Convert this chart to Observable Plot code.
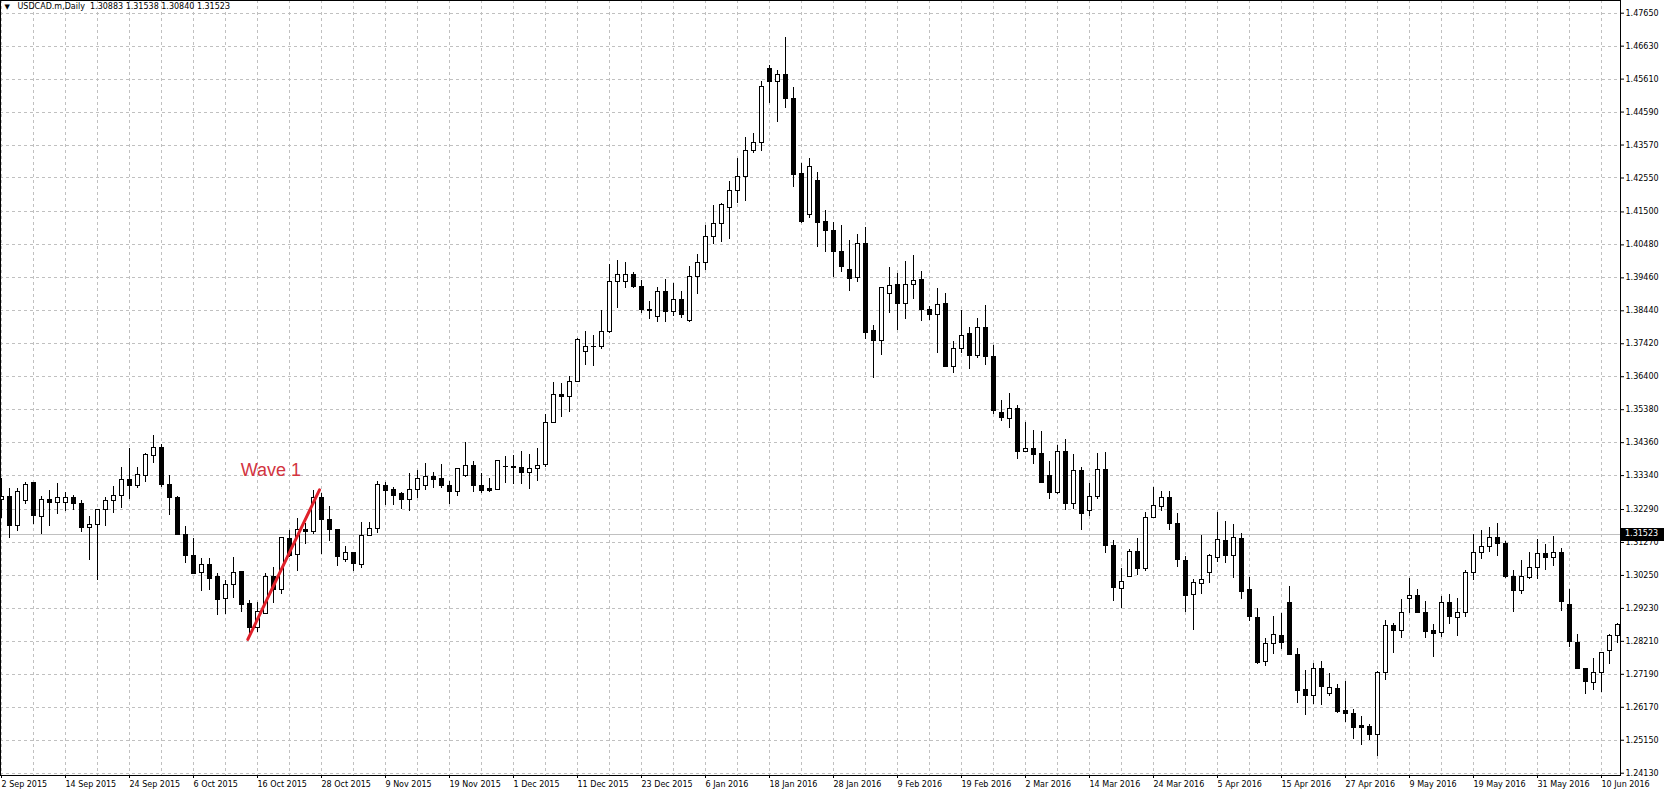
<!DOCTYPE html>
<html><head><meta charset="utf-8">
<script src="https://cdn.jsdelivr.net/npm/d3@7"></script>
<script src="https://cdn.jsdelivr.net/npm/@observablehq/plot@0.6"></script>
<style>html,body{margin:0;padding:0;background:#fff;overflow:hidden}</style>
</head><body><div id="chart"></div>
<script>
const symbolName = "USDCAD.m,Daily";
const headerOHLC = [1.30883, 1.31538, 1.30840, 1.31523];
const currentPrice = headerOHLC[3];

const open = [
1.3259,1.3269,1.3177,1.3256,1.3310,1.3205,1.3259,1.3249,1.3249,1.3265,
1.3247,1.3173,1.3182,1.3228,1.3254,1.3270,1.3321,1.3301,1.3332,1.3396,
1.3420,1.3306,1.3266,1.3149,1.3084,1.3033,1.3058,1.3019,1.2952,1.2996,
1.3037,1.2937,1.2863,1.2906,1.3019,1.2980,1.3138,1.3088,1.3166,1.3159,
1.3265,1.3197,1.3166,1.3073,1.3095,1.3057,1.3146,1.3169,1.3303,1.3288,
1.3276,1.3259,1.3290,1.3301,1.3331,1.3322,1.3303,1.3283,1.3332,1.3363,
1.3303,1.3291,1.3290,1.3360,1.3362,1.3358,1.3343,1.3355,1.3367,1.3497,
1.3584,1.3578,1.3623,1.3717,1.3731,1.3731,1.3778,1.3933,1.3933,1.3955,
1.3919,1.3847,1.3824,1.3902,1.3840,1.3878,1.3811,1.3948,1.3992,1.4072,
1.4113,1.4161,1.4214,1.4257,1.4337,1.4364,1.4593,1.4552,1.4575,1.4500,
1.4266,1.4141,1.4247,1.4118,1.4092,1.4027,1.3969,1.3946,1.4051,1.3780,
1.3750,1.3897,1.3925,1.3866,1.3924,1.3938,1.3845,1.3832,1.3864,1.3670,
1.3727,1.3773,1.3704,1.3792,1.3702,1.3528,1.3509,1.3540,1.3406,1.3417,
1.3401,1.3334,1.3280,1.3408,1.3247,1.3347,1.3224,1.3267,1.3350,1.3117,
1.2983,1.3021,1.3098,1.3044,1.3204,1.3238,1.3266,1.3184,1.3071,1.2965,
1.2999,1.3033,1.3079,1.3131,1.3084,1.3138,1.2981,1.2894,1.2756,1.2813,
1.2839,1.2940,1.2780,1.2671,1.2651,1.2736,1.2659,1.2674,1.2604,1.2597,
1.2558,1.2556,1.2532,1.2724,1.2870,1.2854,1.2952,1.2962,1.2909,1.2854,
1.2847,1.2940,1.2894,1.2908,1.3033,1.3094,1.3114,1.3141,1.3122,1.3021,
1.2976,1.3017,1.3048,1.3091,1.3079,1.3094,1.2934,1.2816,1.2736,1.2693,
1.2724,1.2790,1.2839
];
const high = [
1.3325,1.3293,1.3293,1.3314,1.3310,1.3269,1.3288,1.3309,1.3283,1.3272,
1.3257,1.3208,1.3228,1.3265,1.3300,1.3358,1.3417,1.3360,1.3401,1.3458,
1.3430,1.3334,1.3269,1.3177,1.3139,1.3077,1.3077,1.3030,1.3009,1.3079,
1.3037,1.2949,1.2942,1.3030,1.3050,1.3143,1.3164,1.3200,1.3187,1.3288,
1.3278,1.3238,1.3166,1.3115,1.3095,1.3190,1.3190,1.3317,1.3314,1.3296,
1.3283,1.3341,1.3350,1.3370,1.3343,1.3368,1.3317,1.3355,1.3437,1.3377,
1.3340,1.3324,1.3379,1.3393,1.3396,1.3408,1.3399,1.3417,1.3523,1.3621,
1.3618,1.3640,1.3759,1.3779,1.3767,1.3846,1.3986,1.4000,1.3994,1.3962,
1.3938,1.3873,1.3917,1.3941,1.3928,1.3904,1.3982,1.4018,1.4108,1.4170,
1.4177,1.4244,1.4316,1.4379,1.4394,1.4555,1.4603,1.4588,1.4691,1.4536,
1.4301,1.4315,1.4272,1.4154,1.4118,1.4108,1.4061,1.4080,1.4102,1.3799,
1.3917,1.3977,1.3960,1.3996,1.4015,1.3966,1.3858,1.3912,1.3899,1.3750,
1.3845,1.3792,1.3820,1.3861,1.3736,1.3566,1.3587,1.3551,1.3499,1.3473,
1.3470,1.3378,1.3427,1.3445,1.3399,1.3360,1.3310,1.3403,1.3406,1.3132,
1.3045,1.3104,1.3140,1.3220,1.3297,1.3284,1.3284,1.3217,1.3083,1.3011,
1.3148,1.3089,1.3220,1.3192,1.3182,1.3156,1.3019,1.2923,1.2829,1.2898,
1.2906,1.2990,1.2798,1.2731,1.2753,1.2759,1.2721,1.2687,1.2697,1.2609,
1.2589,1.2564,1.2728,1.2887,1.2877,1.2952,1.3015,1.2980,1.2944,1.2874,
1.2959,1.2965,1.2955,1.3040,1.3153,1.3163,1.3173,1.3187,1.3130,1.3040,
1.3071,1.3096,1.3135,1.3122,1.3145,1.3107,1.2983,1.2841,1.2736,1.2767,
1.2787,1.2841,1.2877
];
const low = [
1.3201,1.3139,1.3162,1.3245,1.3183,1.3152,1.3175,1.3214,1.3224,1.3226,
1.3159,1.3072,1.3010,1.3175,1.3218,1.3233,1.3260,1.3293,1.3314,1.3370,
1.3298,1.3211,1.3149,1.3063,1.3028,1.2976,1.2979,1.2901,1.2904,1.2955,
1.2911,1.2846,1.2849,1.2904,1.2937,1.2966,1.3081,1.3038,1.3121,1.3152,
1.3089,1.3131,1.3052,1.3064,1.3038,1.3046,1.3145,1.3154,1.3242,1.3242,
1.3229,1.3224,1.3262,1.3288,1.3293,1.3293,1.3245,1.3269,1.3329,1.3281,
1.3280,1.3283,1.3288,1.3310,1.3306,1.3306,1.3291,1.3317,1.3360,1.3497,
1.3514,1.3530,1.3621,1.3674,1.3671,1.3724,1.3774,1.3852,1.3912,1.3914,
1.3835,1.3817,1.3809,1.3809,1.3827,1.3821,1.3809,1.3895,1.3969,1.4048,
1.4056,1.4064,1.4175,1.4183,1.4331,1.4338,1.4485,1.4428,1.4471,1.4225,
1.4113,1.4129,1.4041,1.4025,1.3946,1.3964,1.3905,1.3933,1.3755,1.3633,
1.3705,1.3837,1.3783,1.3817,1.3879,1.3812,1.3815,1.3712,1.3668,1.3651,
1.3713,1.3661,1.3695,1.3675,1.3523,1.3502,1.3480,1.3384,1.3404,1.3368,
1.3309,1.3260,1.3275,1.3226,1.3229,1.3164,1.3208,1.3260,1.3092,1.2944,
1.2924,1.3019,1.3024,1.3038,1.3203,1.3223,1.3163,1.3050,1.2911,1.2854,
1.2966,1.3000,1.3065,1.3062,1.3016,1.2950,1.2883,1.2749,1.2744,1.2780,
1.2796,1.2777,1.2630,1.2592,1.2626,1.2623,1.2650,1.2597,1.2571,1.2517,
1.2499,1.2515,1.2464,1.2700,1.2784,1.2831,1.2906,1.2906,1.2831,1.2772,
1.2834,1.2873,1.2837,1.2894,1.3009,1.3074,1.3096,1.3084,1.3016,1.2911,
1.2966,1.3014,1.3014,1.3040,1.3052,1.2914,1.2803,1.2734,1.2657,1.2669,
1.2662,1.2749,1.2815
];
const close = [
1.3267,1.3177,1.3283,1.3306,1.3208,1.3259,1.3249,1.3265,1.3265,1.3246,
1.3171,1.3182,1.3228,1.3254,1.3272,1.3321,1.3301,1.3337,1.3397,1.3420,
1.3306,1.3264,1.3151,1.3084,1.3031,1.3058,1.3015,1.2949,1.2996,1.3034,
1.2934,1.2863,1.2913,1.3019,1.2981,1.3140,1.3086,1.3166,1.3159,1.3265,
1.3197,1.3166,1.3081,1.3095,1.3060,1.3146,1.3169,1.3306,1.3286,1.3270,
1.3259,1.3290,1.3322,1.3331,1.3319,1.3301,1.3283,1.3353,1.3363,1.3301,
1.3286,1.3286,1.3378,1.3361,1.3356,1.3341,1.3355,1.3364,1.3497,1.3584,
1.3576,1.3625,1.3754,1.3732,1.3732,1.3779,1.3933,1.3955,1.3955,1.3917,
1.3845,1.3843,1.3902,1.3840,1.3878,1.3830,1.3950,1.3992,1.4072,1.4113,
1.4170,1.4216,1.4259,1.4340,1.4363,1.4538,1.4552,1.4575,1.4498,1.4263,
1.4118,1.4290,1.4115,1.4090,1.4025,1.3979,1.3943,1.4051,1.3775,1.3750,
1.3915,1.3922,1.3866,1.3925,1.3935,1.3845,1.3832,1.3863,1.3670,1.3727,
1.3765,1.3704,1.3792,1.3701,1.3535,1.3513,1.3540,1.3406,1.3417,1.3399,
1.3312,1.3280,1.3408,1.3246,1.3347,1.3216,1.3269,1.3350,1.3116,1.2986,
1.3006,1.3098,1.3044,1.3203,1.3241,1.3266,1.3184,1.3073,1.2962,1.3002,
1.3011,1.3085,1.3134,1.3084,1.3141,1.2973,1.2895,1.2755,1.2813,1.2841,
1.2815,1.2780,1.2667,1.2651,1.2736,1.2679,1.2677,1.2602,1.2597,1.2552,
1.2554,1.2532,1.2724,1.2868,1.2852,1.2909,1.2962,1.2908,1.2849,1.2844,
1.2940,1.2895,1.2909,1.3033,1.3094,1.3114,1.3141,1.3122,1.3019,1.2976,
1.3021,1.3048,1.3091,1.3079,1.3096,1.2942,1.2818,1.2736,1.2695,1.2724,
1.2785,1.2839,1.2873
];

const dateLabels = ["2 Sep 2015","14 Sep 2015","24 Sep 2015","6 Oct 2015","16 Oct 2015","28 Oct 2015",
  "9 Nov 2015","19 Nov 2015","1 Dec 2015","11 Dec 2015","23 Dec 2015","6 Jan 2016","18 Jan 2016",
  "28 Jan 2016","9 Feb 2016","19 Feb 2016","2 Mar 2016","14 Mar 2016","24 Mar 2016","5 Apr 2016",
  "15 Apr 2016","27 Apr 2016","9 May 2016","19 May 2016","31 May 2016","10 Jun 2016"];
const dateTickBars = [0,8,16,24,32,40,48,56,64,72,80,88,96,104,112,120,128,136,144,152,160,168,176,184,192,200];
const priceTicks = [1.47650,1.46630,1.45610,1.44590,1.43570,1.42550,1.41500,1.40480,1.39460,1.38440,
  1.37420,1.36400,1.35380,1.34360,1.33340,1.32290,1.31270,1.30250,1.29230,1.28210,1.27190,1.26170,1.25150,1.24130];

const waveBars = [30.79, 39.75];
const wavePrices = [1.2827, 1.3290];
const waveText = "Wave 1";
const waveTextBar = 29.9;
const waveTextPrice = 1.3352;

const candles = open.map((o, i) => ({i, open: o, high: high[i], low: low[i], close: close[i]}));
const wave = waveBars.map((b, k) => ({bar: b, price: wavePrices[k]}));
const gridBars = d3.range(0, open.length, 4);

const plot = Plot.plot({
  width: 1664, height: 793,
  marginLeft: 0, marginRight: 44, marginTop: 0, marginBottom: 18,
  style: {fontFamily: "'DejaVu Sans', sans-serif", fontSize: "8px", color: "black", background: "white", overflow: "visible"},
  x: {type: "linear", domain: [-0.125, 202.375], axis: null},
  y: {domain: [1.24059, 1.48043], axis: null},
  marks: [
    Plot.ruleY(priceTicks, {stroke: "#c0c0c0", strokeDasharray: "3,3", shapeRendering: "crispEdges"}),
    Plot.ruleX(gridBars, {stroke: "#c0c0c0", strokeDasharray: "3,3", shapeRendering: "crispEdges"}),
    Plot.ruleY([currentPrice], {stroke: "#c0c0c0", shapeRendering: "crispEdges"}),
    Plot.ruleX(candles, {x: "i", y1: "low", y2: "high", stroke: "black", shapeRendering: "crispEdges"}),
    Plot.rect(candles, {x1: d => d.i - 0.25, x2: d => d.i + 0.25, y1: "open", y2: "close",
      fill: d => d.close >= d.open ? "white" : "black", stroke: "black", shapeRendering: "crispEdges"}),
    Plot.line(wave, {x: "bar", y: "price", stroke: "#e0202a", strokeWidth: 3}),
    Plot.text([waveText], {x: waveTextBar, y: waveTextPrice, text: d => d, textAnchor: "start",
      fill: "#d2343f", fontSize: 18, fontFamily: "'Liberation Sans', Arial, sans-serif"}),
    Plot.text(["\u25BC"], {frameAnchor: "top-left", dx: 4, dy: 4, lineAnchor: "top", textAnchor: "start", fontSize: 7, text: d => d}),
    Plot.text([symbolName + "  " + headerOHLC.map(v => v.toFixed(5)).join(" ")],
      {frameAnchor: "top-left", dx: 17, dy: 3, lineAnchor: "top", textAnchor: "start", text: d => d}),
    Plot.frame({stroke: "black"}),
    Plot.axisY(priceTicks, {anchor: "right", tickSize: 3, tickPadding: 2, tickFormat: d => d.toFixed(5)}),
    Plot.axisX(dateTickBars, {anchor: "bottom", tickSize: 3, tickPadding: 3, textAnchor: "start",
      tickFormat: d => dateLabels[dateTickBars.indexOf(d)]})
  ]
});

const yPx = plot.scale("y").apply(currentPrice);
const svg = d3.select(plot);
svg.append("rect").attr("x", 1621).attr("y", Math.round(yPx) - 6).attr("width", 43).attr("height", 13).attr("fill", "black");
svg.append("text").attr("x", 1625).attr("y", yPx).attr("dy", "0.32em").attr("fill", "white")
  .attr("text-anchor", "start")
  .attr("font-family", "'DejaVu Sans', sans-serif").attr("font-size", 8).text(currentPrice.toFixed(5));

document.getElementById("chart").appendChild(plot);
</script>
</body></html>
